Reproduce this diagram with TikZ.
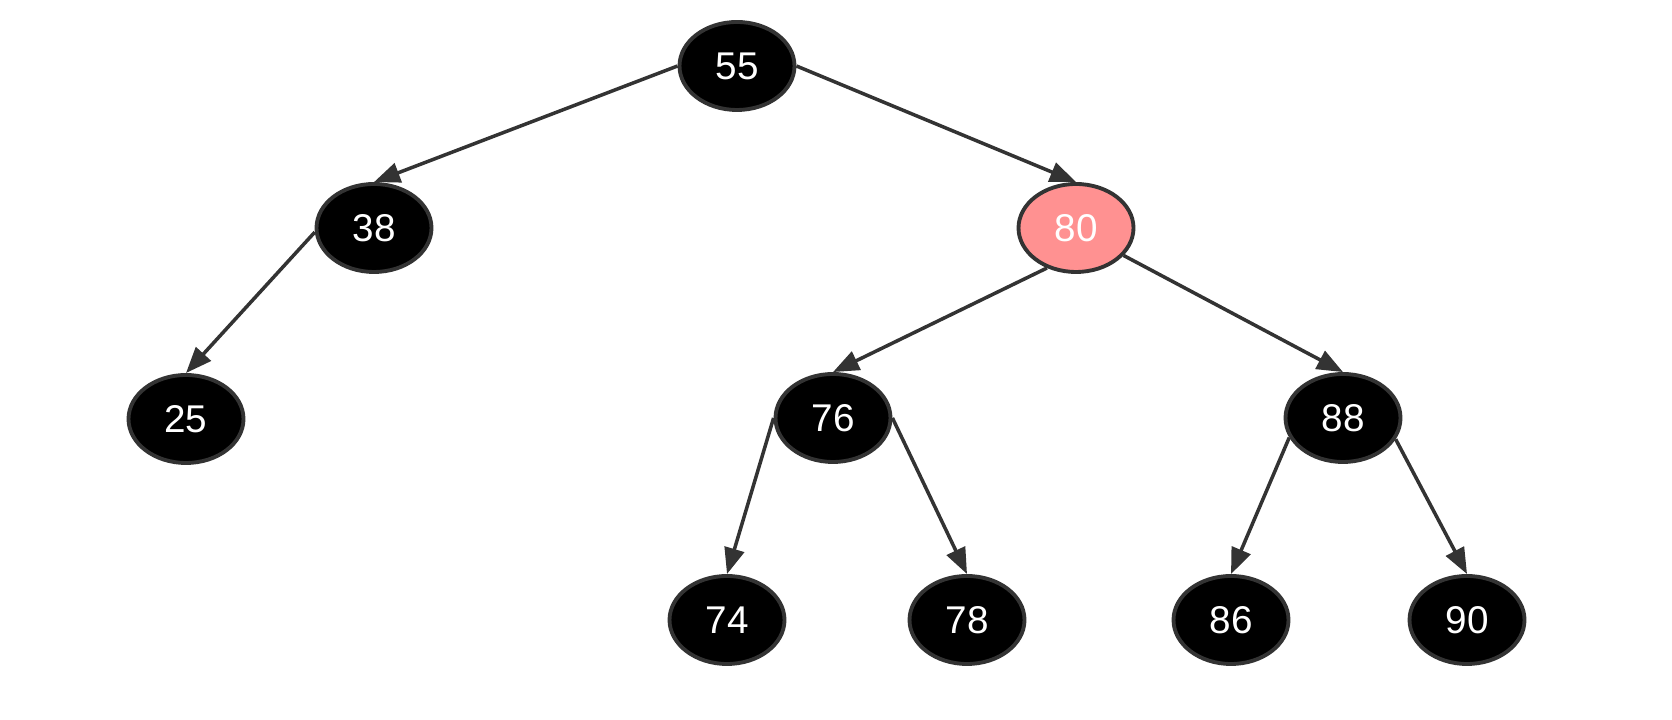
\documentclass[tikz,border=0pt]{standalone}
\usepackage{fontspec}
\setmainfont{Liberation Sans}
\usetikzlibrary{arrows.meta, shapes.geometric}
\definecolor{edgegray}{RGB}{51,51,51}
\definecolor{rednode}{RGB}{255,145,145}
\tikzset{
	key/.style={ellipse, draw=edgegray, line width=1.1pt, fill=black, text=white,
		minimum width=1.15cm, minimum height=0.88cm, inner sep=0pt,
		font=\fontsize{11}{13}\selectfont},
	redkey/.style={key, fill=rednode},
	link/.style={draw=edgegray, line width=1pt, -{Triangle[length=2.6mm, width=2mm]}}
}
\begin{document}
\begin{tikzpicture}
		\useasboundingbox (0, 0) rectangle (16.72, 7.2);
		\node[key] (k55) at (7.37, 6.54) {55};
		\node[key] (k38) at (3.74, 4.92) {38};
		\node[redkey] (k80) at (10.76, 4.92) {80};
		\node[key] (k25) at (1.86, 3.01) {25};
		\node[key] (k76) at (8.33, 3.02) {76};
		\node[key] (k88) at (13.43, 3.02) {88};
		\node[key] (k74) at (7.27, 1.00) {74};
		\node[key] (k78) at (9.67, 1.00) {78};
		\node[key] (k86) at (12.31, 1.00) {86};
		\node[key] (k90) at (14.67, 1.00) {90};
		\draw[link] (k55.west) -- (k38.north);
		\draw[link] (k55.east) -- (k80.north);
		\draw[link] (k38.184) -- (k25.north);
		\draw[link] (k80.234) -- (k76.north);
		\draw[link] (k80.330) -- (k88.north);
		\draw[link] (k76.west) -- (k74.north);
		\draw[link] (k76.east) -- (k78.north);
		\draw[link] (k88.200) -- (k86.north);
		\draw[link] (k88.338) -- (k90.north);
	\end{tikzpicture}
\end{document}
